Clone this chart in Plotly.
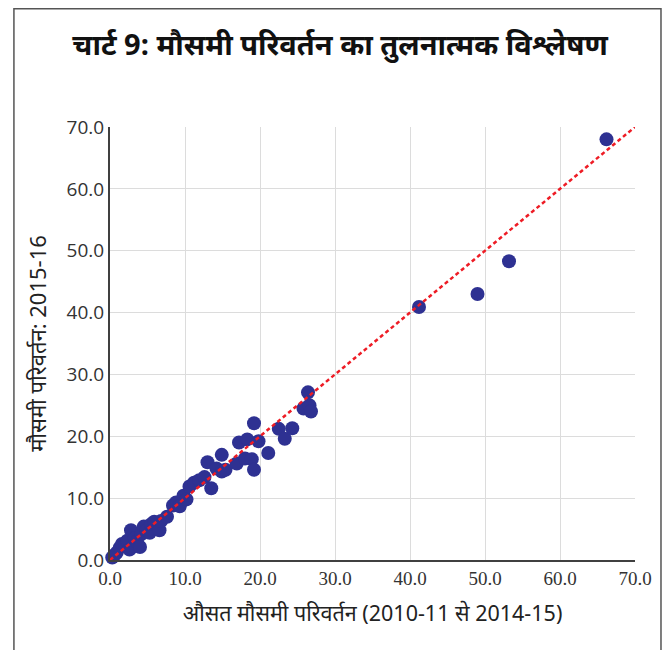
import plotly.graph_objects as go

# average seasonal variation (2010-11 to 2014-15) vs seasonal variation 2015-16
avg_variation = [
    0.3, 0.6, 0.9, 1.3, 1.6, 2.0, 2.3, 2.6, 2.9, 2.8,
    3.3, 3.6, 4.0, 4.2, 4.5, 4.9, 5.3, 5.5, 5.9, 6.6,
    6.8, 7.6, 8.4, 8.8, 9.3, 9.8, 10.2, 10.6, 11.2, 11.9,
    12.6, 13.0, 13.5, 14.2, 14.9, 14.9, 15.4, 16.9, 17.2, 18.0,
    18.3, 18.9, 19.2, 19.2, 19.8, 21.1, 22.5, 23.3, 24.3, 25.8,
    26.4, 26.6, 26.8, 41.2, 49.0, 53.2, 66.2,
]
variation_2015_16 = [
    0.4, 0.8, 1.2, 2.0, 2.6, 2.4, 3.1, 1.7, 2.0, 4.8,
    3.5, 3.0, 2.1, 4.2, 5.4, 4.8, 4.4, 5.8, 6.2, 4.8,
    6.3, 7.0, 8.8, 9.3, 8.7, 10.4, 9.8, 11.9, 12.5, 12.9,
    13.4, 15.8, 11.6, 14.8, 17.0, 14.3, 14.6, 15.6, 19.0, 16.4,
    19.5, 16.3, 14.6, 22.1, 19.2, 17.3, 21.2, 19.6, 21.3, 24.5,
    27.1, 25.0, 24.0, 40.9, 43.0, 48.3, 68.0,
]
diag = [0, 70]

tick_vals = [0, 10, 20, 30, 40, 50, 60, 70]
tick_text = ['0.0', '10.0', '20.0', '30.0', '40.0', '50.0', '60.0', '70.0']

fig = go.Figure()
fig.add_trace(go.Scatter(
    x=avg_variation, y=variation_2015_16, mode='markers',
    marker=dict(color='#2e3192', size=14, line=dict(width=0)),
    cliponaxis=False, showlegend=False,
))
fig.add_trace(go.Scatter(
    x=diag, y=diag, mode='lines',
    line=dict(color='#ee1c25', width=2.5, dash='4px,3px'),
    showlegend=False,
))

axis_common = dict(
    range=[0, 70], tickvals=tick_vals, ticktext=tick_text,
    showgrid=True, gridcolor='#dcdcdc', gridwidth=1,
    showline=True, linecolor='#404040', linewidth=2,
    zeroline=False, ticks='', fixedrange=True, automargin=False,
)
fig.update_xaxes(**axis_common,
                 tickfont=dict(family='Liberation Serif', size=19, color='#333333'),
                 title=dict(text='औसत मौसमी परिवर्तन (2010-11 से 2014-15)',
                            font=dict(family='Liberation Sans Narrow, Noto Sans', size=21.5, color='#222222'),
                            standoff=18))
fig.update_yaxes(**axis_common,
                 tickfont=dict(family='Open Sans', size=19, color='#333333'),
                 title=dict(text='मौसमी परिवर्तन: 2015-16',
                            font=dict(family='Liberation Sans Narrow, Noto Sans', size=22, color='#222222'),
                            standoff=14))

# frame: left, top and right sides only (the bottom runs off the picture)
frame_path = 'M -0.183,-0.25 L -0.183,1.273 L 1.0495,1.273 L 1.0495,-0.25'

# the page body has an 8px margin: keep the figure small enough to avoid scrollbars
fig.update_layout(
    width=655, height=642,
    margin=dict(l=102, r=28, t=119, b=90),
    paper_bgcolor='white', plot_bgcolor='white',
    title=dict(text='<b>चार्ट 9: मौसमी परिवर्तन का तुलनात्मक विश्लेषण</b>',
               x=0.507, xanchor='center', y=0.942, yanchor='middle',
               font=dict(family='Liberation Sans Narrow, Noto Sans', size=29, color='#111111')),
    shapes=[dict(type='path', xref='paper', yref='paper', path=frame_path,
                 line=dict(color='#555555', width=1.5), layer='below')],
)

fig.write_html("out.html")
